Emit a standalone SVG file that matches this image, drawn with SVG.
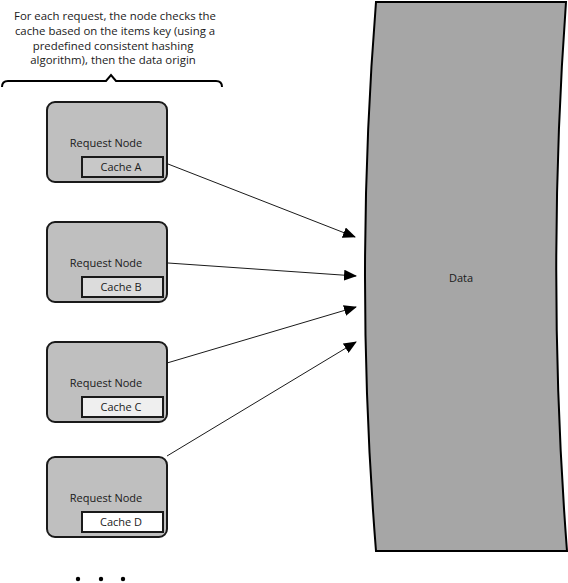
<svg xmlns="http://www.w3.org/2000/svg" width="568" height="583" viewBox="0 0 568 583">
<style>
text{font-family:"Open Sans","Noto Sans","DejaVu Sans",sans-serif;font-size:11px;fill:#1a1a1a;text-anchor:middle}
.note{font-size:11.4px}
.node{fill:#bfbfbf;stroke:#1a1a1a;stroke-width:2}
.cache{stroke:#1a1a1a;stroke-width:2}
.conn{stroke:#1a1a1a;stroke-width:1;fill:none;marker-end:url(#arr)}
</style>
<defs>
<marker id="arr" markerUnits="userSpaceOnUse" markerWidth="13" markerHeight="11" refX="12" refY="5.5" orient="auto">
<path d="M0,0 L13,5.5 L0,11 z" fill="#000"/>
</marker>
</defs>
<rect width="568" height="583" fill="#fff"/>
<g id="note">
<text class="note" x="115" y="20">For each request, the node checks the</text>
<text class="note" x="115" y="35">cache based on the items key (using a</text>
<text class="note" x="113" y="49.5">predefined consistent hashing</text>
<text class="note" x="113" y="64">algorithm), then the data origin</text>
<path d="M2,87 Q2,81 8,81 L106,81 L111,75 L116,81 L216,81 Q222,81 222,87" fill="none" stroke="#000" stroke-width="2"/>
</g>
<g id="data">
<path d="M376,2 L566,2 Q546,277 567,551 L376,551 Q354,277 376,2 z" fill="#a6a6a6" stroke="#000" stroke-width="2"/>
<text x="461" y="282">Data</text>
</g>
<g id="node-a">
<rect class="node" x="47" y="102" width="120" height="80" rx="8"/>
<text x="106" y="147">Request Node</text>
<rect class="cache" x="82" y="157" width="81" height="20" fill="#c8c8c8"/>
<text x="121" y="171">Cache A</text>
</g>
<g id="node-b">
<rect class="node" x="47" y="222" width="120" height="80" rx="8"/>
<text x="106" y="267">Request Node</text>
<rect class="cache" x="82" y="277" width="81" height="20" fill="#dcdcdc"/>
<text x="121" y="291">Cache B</text>
</g>
<g id="node-c">
<rect class="node" x="47" y="342" width="120" height="80" rx="8"/>
<text x="106" y="387">Request Node</text>
<rect class="cache" x="82" y="397" width="81" height="20" fill="#efefef"/>
<text x="121" y="411">Cache C</text>
</g>
<g id="node-d">
<rect class="node" x="47" y="457" width="120" height="80" rx="8"/>
<text x="106" y="502">Request Node</text>
<rect class="cache" x="82" y="512" width="81" height="20" fill="#ffffff"/>
<text x="121" y="526">Cache D</text>
</g>
<g id="connectors">
<line class="conn" x1="168" y1="164" x2="355" y2="237"/>
<line class="conn" x1="168" y1="263" x2="356" y2="276"/>
<line class="conn" x1="167" y1="363" x2="356" y2="307"/>
<line class="conn" x1="167" y1="456" x2="356" y2="342"/>
</g>
<g id="ellipsis" fill="#000">
<circle cx="78" cy="579" r="2.2"/>
<circle cx="101" cy="579" r="2.2"/>
<circle cx="123" cy="579" r="2.2"/>
</g>
</svg>
